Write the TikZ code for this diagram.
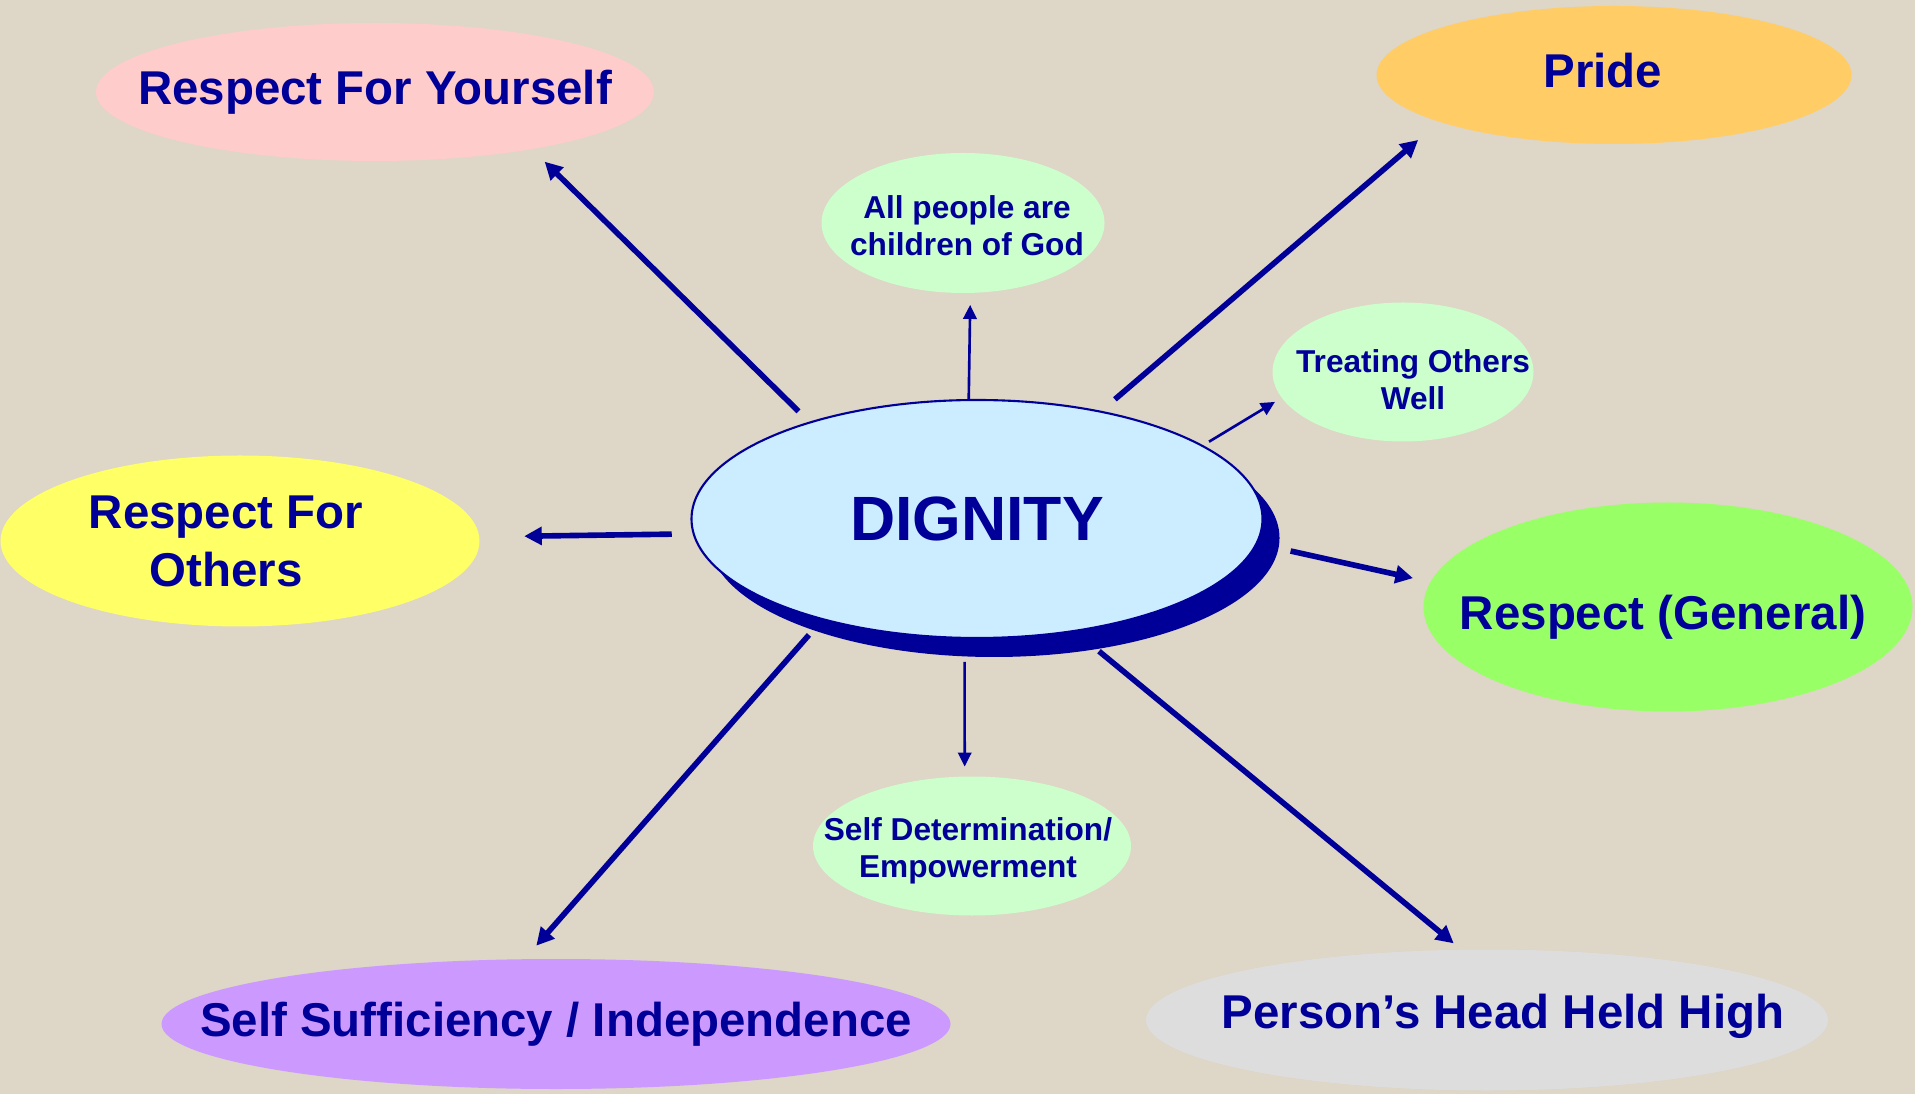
\documentclass[tikz,border=0pt]{standalone}
\usepackage{fontspec}
\setmainfont{Liberation Sans}
\usepackage{xcolor}
\usetikzlibrary{arrows.meta, shapes.geometric, shadows}

\definecolor{navy}{RGB}{0,0,153}
\definecolor{paper}{RGB}{222,214,198}
\definecolor{rosefill}{RGB}{255,204,204}
\definecolor{goldfill}{RGB}{255,204,102}
\definecolor{mintfill}{RGB}{204,255,204}
\definecolor{lemonfill}{RGB}{255,255,102}
\definecolor{skyfill}{RGB}{204,236,255}
\definecolor{limefill}{RGB}{153,255,102}
\definecolor{lilacfill}{RGB}{204,153,255}
\definecolor{greyfill}{RGB}{221,221,221}

\begin{document}
\begin{tikzpicture}[
        blob/.style={
            ellipse, inner sep=0pt, outer sep=0pt
        },
        big/.style={
            text=navy, align=center,
            font=\fontsize{13.5}{16.5}\selectfont\bfseries
        },
        small/.style={
            text=navy, align=center,
            font=\fontsize{9}{10.5}\selectfont\bfseries
        },
        spoke/.style={
            draw=navy, line width=1.6pt,
            -{Triangle[length=5pt, width=5pt]}
        },
        twig/.style={
            draw=navy, line width=0.75pt,
            -{Triangle[length=4pt, width=3.8pt]}
        },
    ]

    % page and background
    \clip (0,0) rectangle (19.15,10.94);
    \fill[paper] (0,0) rectangle (19.15,10.94);

    %============================================================
    % Centre: DIGNITY
    %============================================================
    \node[blob, fill=skyfill, draw=navy, line width=0.6pt,
          minimum width=5.71cm, minimum height=2.38cm,
          drop shadow={shadow xshift=0.17cm, shadow yshift=-0.19cm, fill=navy, opacity=1},
          label={[text=navy, font=\fontsize{17.8}{20}\selectfont\bfseries]center:DIGNITY}]
          (dignity) at (9.77,5.75) {};

    %============================================================
    % Outer ring: large ellipses
    %============================================================
    \node[blob, fill=rosefill, minimum width=5.58cm, minimum height=1.38cm,
          label={[big]center:Respect For Yourself}] (yourself) at (3.75,10.02) {};
    \node[blob, fill=goldfill, minimum width=4.75cm, minimum height=1.38cm,
          label={[big, xshift=-0.11cm, yshift=0.04cm]center:Pride}] (pride) at (16.14,10.19) {};
    \node[blob, fill=lemonfill, minimum width=4.79cm, minimum height=1.71cm,
          label={[big, xshift=-0.14cm]center:{Respect For\\Others}}] (others) at (2.40,5.53) {};
    \node[blob, fill=limefill, minimum width=4.89cm, minimum height=2.09cm,
          label={[big, xshift=-0.05cm, yshift=-0.10cm]center:Respect (General)}] (general) at (16.68,4.87) {};
    \node[blob, fill=lilacfill, minimum width=7.89cm, minimum height=1.30cm,
          label={[big]center:Self Sufficiency / Independence}] (sufficiency) at (5.56,0.70) {};
    \node[blob, fill=greyfill, minimum width=6.82cm, minimum height=1.41cm,
          label={[big, xshift=0.16cm, yshift=0.04cm]center:Person’s Head Held High}] (head) at (14.87,0.74) {};

    %============================================================
    % Inner ring: small green ellipses
    %============================================================
    \node[blob, fill=mintfill, minimum width=2.83cm, minimum height=1.40cm,
          label={[small, xshift=0.04cm, yshift=-0.03cm]center:{All people are\\children of God}}] (children) at (9.63,8.71) {};
    \node[blob, fill=mintfill, minimum width=2.61cm, minimum height=1.39cm,
          label={[small, xshift=0.10cm, yshift=-0.08cm]center:{Treating Others\\Well}}] (treating) at (14.03,7.22) {};
    \node[blob, fill=mintfill, minimum width=3.18cm, minimum height=1.39cm,
          label={[small, xshift=-0.04cm, yshift=-0.05cm]center:{Self Determination/\\Empowerment}}] (determination) at (9.72,2.48) {};

    %============================================================
    % Spokes: DIGNITY -> outer ring (thick)
    %============================================================
    \foreach \tgt/\from/\into/\gapa/\gapb in {
            yourself/150/340/0.16/0.18,
            pride/41/195/0.19/0.28,
            others/183/1/0.22/0.45,
            general/355/174/0.35/0.18,
            sufficiency/213/116/0.21/0.18,
            head/311/110/0.32/0.10}{
        \draw[spoke, shorten <=\gapa cm, shorten >=\gapb cm] (dignity.\from) -- (\tgt.\into);
    }

    %============================================================
    % Twigs: DIGNITY -> inner ring (thin)
    %============================================================
    \foreach \tgt/\from/\into/\gapa/\gapb in {
            children/94/276/0.0/0.12,
            treating/18/192/0.08/0.08,
            determination/264/96/0.24/0.10}{
        \draw[twig, shorten <=\gapa cm, shorten >=\gapb cm] (dignity.\from) -- (\tgt.\into);
    }

\end{tikzpicture}
\end{document}
